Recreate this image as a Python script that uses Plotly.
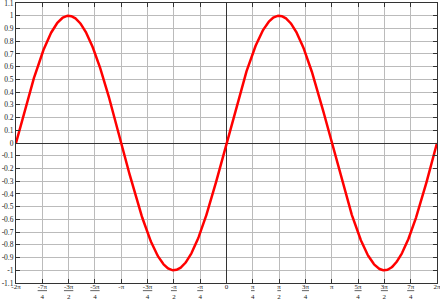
import numpy as np
import plotly.graph_objects as go

x_vals = np.linspace(-2*np.pi, 2*np.pi, 801)
y_vals = np.sin(x_vals)

x_tick_vals = [k*np.pi/4 for k in range(-8, 9)]
x_tick_text = ["-2π", "<u>-7π</u><br>4", "<u>-3π</u><br>2", "<u>-5π</u><br>4", "-π",
               "<u>-3π</u><br>4", "<u>-π</u><br>2", "<u>-π</u><br>4", "0",
               "<u>π</u><br>4", "<u>π</u><br>2", "<u>3π</u><br>4", "π",
               "<u>5π</u><br>4", "<u>3π</u><br>2", "<u>7π</u><br>4", "2π"]
y_tick_vals = [round(-1.1 + 0.1*i, 1) for i in range(23)]
y_tick_text = [("%g" % v) if v != 0 else "0" for v in y_tick_vals]

fig = go.Figure()
fig.add_trace(go.Scatter(x=x_vals, y=y_vals, mode="lines",
                         line=dict(color="#ff0000", width=2.5)))

fig.update_layout(
    width=440, height=300,
    margin=dict(l=16, r=3, t=3, b=17),
    paper_bgcolor="white", plot_bgcolor="white",
    showlegend=False,
    font=dict(family="Liberation Serif", size=7.5, color="#222"),
)
fig.update_xaxes(range=[-2*np.pi - 1e-4, 2*np.pi + 1e-4], tickvals=x_tick_vals, ticktext=x_tick_text,
                 showgrid=True, gridcolor="#bbbbbb", gridwidth=1,
                 zeroline=True, zerolinecolor="#333", zerolinewidth=1,
                 showline=True, linecolor="#333", linewidth=1, mirror="ticks",
                 ticks="inside", ticklen=4, tickcolor="#333", tickangle=0,
                 tickfont=dict(size=7), ticklabelstandoff=-3,
                 ticklabeloverflow="allow", automargin=False)
fig.update_yaxes(range=[-1.1001, 1.1001], tickvals=y_tick_vals, ticktext=y_tick_text,
                 showgrid=True, gridcolor="#bbbbbb", gridwidth=1,
                 zeroline=True, zerolinecolor="#333", zerolinewidth=1,
                 showline=True, linecolor="#333", linewidth=1, mirror="ticks",
                 ticks="inside", ticklen=4, tickcolor="#333",
                 ticklabeloverflow="allow", automargin=False)

fig.write_html("out.html")
